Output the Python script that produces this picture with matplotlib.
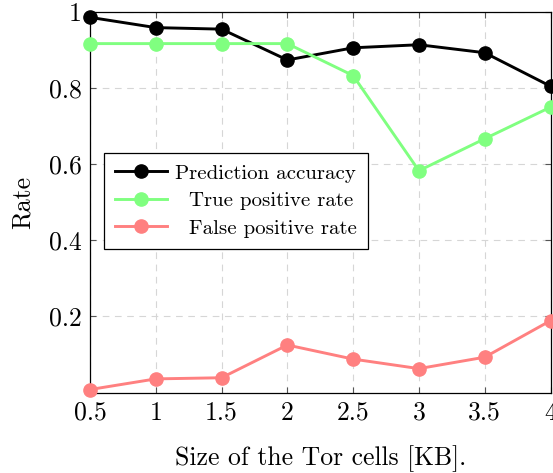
import matplotlib
matplotlib.use("Agg")
import matplotlib.pyplot as plt

sizes = [0.5, 1, 1.5, 2, 2.5, 3, 3.5, 4]
accuracy = [0.986, 0.959, 0.955, 0.874, 0.906, 0.914, 0.893, 0.805]
tpr = [0.917, 0.917, 0.917, 0.917, 0.833, 0.583, 0.667, 0.750]
fpr = [0.008, 0.036, 0.039, 0.125, 0.088, 0.063, 0.093, 0.189]

x_ticks = [0.5, 1, 1.5, 2, 2.5, 3, 3.5, 4]
x_labels = ["0.5", "1", "1.5", "2", "2.5", "3", "3.5", "4"]
y_ticks = [0.2, 0.4, 0.6, 0.8, 1.0]
y_labels = ["0.2", "0.4", "0.6", "0.8", "1"]

plt.rcParams['font.family'] = ['cmr10', 'DejaVu Serif']
plt.rcParams['axes.formatter.use_mathtext'] = True

fig = plt.figure(figsize=(5.53, 4.73), dpi=100)
ax = fig.add_axes([0.1627, 0.170, 0.8328, 0.8046])

kw = dict(lw=2.1, marker='o', markersize=9.5, clip_on=False, zorder=3)
ax.plot(sizes, accuracy, color='black', label='Prediction accuracy', **kw)
ax.plot(sizes, tpr, color='#80ff80', label='  True positive rate', **kw)
ax.plot(sizes, fpr, color='#ff8080', label='  False positive rate', **kw)

ax.set_xlim(0.5, 4)
ax.set_ylim(0, 1)
ax.set_xticks(x_ticks)
ax.set_xticklabels(x_labels)
ax.set_yticks(y_ticks)
ax.set_yticklabels(y_labels)
ax.tick_params(direction='in', top=True, right=True, length=4, width=0.8,
               color='#555555', labelsize=18.5, pad=6)
ax.grid(True, color='#d6d6d6', linestyle=(0, (6, 5)), linewidth=0.8)
ax.set_axisbelow(True)
for s in ax.spines.values():
    s.set_linewidth(0.9)

ax.set_xlabel('Size of the Tor cells [KB].', fontsize=18.5, labelpad=15)
ax.set_ylabel('Rate', fontsize=18.5, labelpad=10)

leg = ax.legend(loc='lower left', bbox_to_anchor=(0.030, 0.377), fontsize=15,
                fancybox=False, edgecolor='black', framealpha=1,
                handlelength=2.5, borderpad=0.55, labelspacing=0.43,
                handletextpad=0.35, borderaxespad=0)
leg.get_frame().set_linewidth(0.9)

fig.savefig('out.png', dpi=100)
